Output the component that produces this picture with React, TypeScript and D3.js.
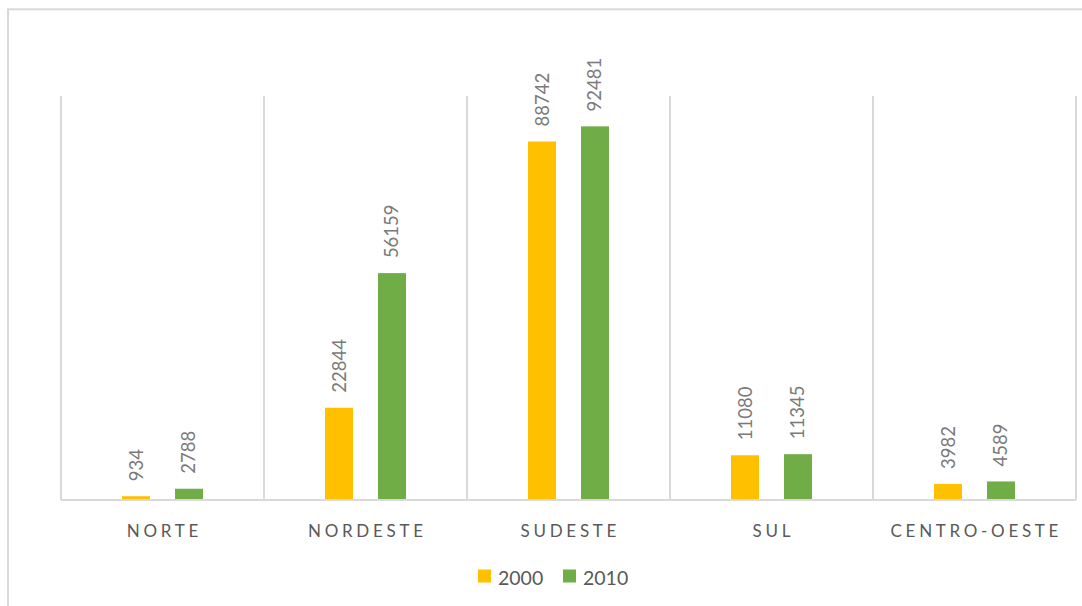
import React from "react";
import * as d3 from "d3";

const categories = ["NORTE", "NORDESTE", "SUDESTE", "SUL", "CENTRO-OESTE"];
const seriesNames = ["2000", "2010"];
const values2000 = [934, 22844, 88742, 11080, 3982];
const values2010 = [2788, 56159, 92481, 11345, 4589];
const seriesColors = ["#FFC000", "#70AD47"];
const yMax = 100000;

const W = 1082;
const H = 606;
const plotLeft = 61;
const plotRight = 1076;
const plotTop = 96;
const plotBottom = 500;
const FONT = "Lato, 'Open Sans', sans-serif";
const LS = 3.7;

export default function App() {
  const x0 = d3.scaleBand<string>().domain(categories).range([plotLeft, plotRight]).padding(0);
  const x1 = d3
    .scaleBand<string>()
    .domain(seriesNames)
    .range([0, x0.bandwidth()])
    .paddingInner(0.4717)
    .paddingOuter(1.151);
  const y = d3.scaleLinear().domain([0, yMax]).range([plotBottom, plotTop]);
  const series = [values2000, values2010];
  const bounds = categories.map((c) => x0(c)!).concat([plotRight]);

  return (
    <svg width={W} height={H} style={{ position: "absolute", left: 0, top: 0, background: "#fff" }}>
      <rect x={8} y={9.3} width={1200} height={800} fill="#fff" stroke="#d9d9d9" strokeWidth={2} />
      {bounds.map((b, i) => (
        <line key={"g" + i} x1={b} x2={b} y1={plotTop} y2={plotBottom} stroke="#d9d9d9" strokeWidth={2} />
      ))}
      <line x1={plotLeft} x2={plotRight} y1={plotBottom} y2={plotBottom} stroke="#d9d9d9" strokeWidth={2} />
      {categories.map((c, ci) => (
        <g key={c}>
          {seriesNames.map((s, si) => {
            const v = series[si][ci];
            const bx = x0(c)! + x1(s)!;
            const bw = x1.bandwidth();
            const top = y(v);
            const cx = bx + bw / 2;
            const ly = top - 15;
            return (
              <g key={s}>
                <rect x={bx} y={top} width={bw} height={plotBottom - 1 - top} fill={seriesColors[si]} />
                <text
                  transform={`translate(${cx + 6.5},${ly}) rotate(-90)`}
                  fontFamily={FONT}
                  fontSize={18.5}
                  fill="#7a7a7a"
                  textAnchor="start"
                >
                  {v}
                </text>
              </g>
            );
          })}
          <text
            x={x0(c)! + x0.bandwidth() / 2 + LS / 2}
            y={536.5}
            textAnchor="middle"
            fontFamily={FONT}
            fontSize={17}
            letterSpacing={LS}
            fill="#595959"
          >
            {c}
          </text>
        </g>
      ))}
      {seriesNames.map((s, si) => {
        const lx = [478, 563][si];
        return (
          <g key={"l" + s}>
            <rect x={lx} y={569.5} width={13} height={13} fill={seriesColors[si]} />
            <text x={lx + 20} y={585} fontFamily={FONT} fontSize={19.5} fill="#595959">
              {s}
            </text>
          </g>
        );
      })}
    </svg>
  );
}
